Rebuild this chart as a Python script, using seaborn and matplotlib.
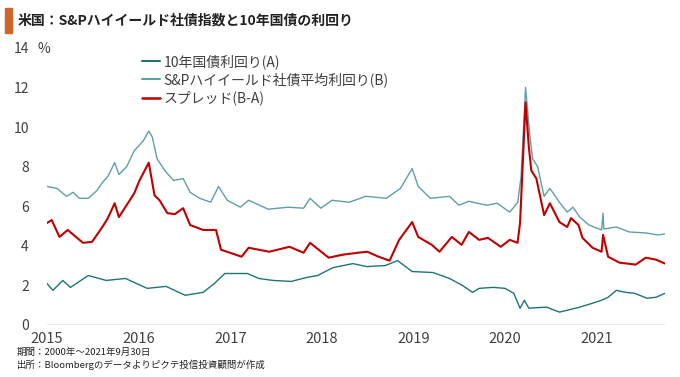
"""US: S&P high-yield index yield vs 10y Treasury yield, with spread."""

import pandas as pd
import matplotlib
matplotlib.use("Agg")
import matplotlib.pyplot as plt
import seaborn as sns

JP_FONT = ["Noto Sans CJK JP", "DejaVu Sans"]

LABEL_UST = "10年国債利回り(A)"
LABEL_HY = "S&Pハイイールド社債平均利回り(B)"
LABEL_SPREAD = "スプレッド(B-A)"

# 10-year Treasury yield (A), %
ust_dates = [
    "2015-01-01", "2015-01-25", "2015-03-05", "2015-04-05", "2015-06-15",
    "2015-08-25", "2015-11-10", "2016-02-05", "2016-04-20", "2016-07-05",
    "2016-09-15", "2016-10-30", "2016-12-10", "2017-03-10", "2017-04-25",
    "2017-06-20", "2017-09-01", "2017-11-01", "2017-12-15", "2018-02-15",
    "2018-05-05", "2018-06-28", "2018-09-10", "2018-10-30", "2018-12-27",
    "2019-03-20", "2019-05-25", "2019-07-15", "2019-08-25", "2019-09-20",
    "2019-11-15", "2020-01-01", "2020-02-05", "2020-03-01", "2020-03-18",
    "2020-04-05", "2020-06-15", "2020-08-05", "2020-10-25", "2020-12-15",
    "2021-01-20", "2021-02-15", "2021-03-20", "2021-04-25", "2021-06-01",
    "2021-07-20", "2021-08-25", "2021-09-30",
]
ust_values = [
    2.10, 1.75, 2.25, 1.90, 2.50,
    2.25, 2.35, 1.85, 1.95, 1.50,
    1.65, 2.10, 2.60, 2.60, 2.35,
    2.25, 2.20, 2.40, 2.50, 2.90,
    3.10, 2.95, 3.00, 3.25, 2.70,
    2.65, 2.35, 2.00, 1.65, 1.85,
    1.90, 1.85, 1.60, 0.85, 1.25,
    0.85, 0.90, 0.65, 0.90, 1.10,
    1.25, 1.40, 1.75, 1.65, 1.60,
    1.35, 1.40, 1.60,
]

# S&P high-yield average yield (B), %
hy_dates = [
    "2015-01-01", "2015-02-10", "2015-03-20", "2015-04-15", "2015-05-10",
    "2015-06-15", "2015-07-20", "2015-08-10", "2015-09-01", "2015-09-28",
    "2015-10-15", "2015-11-15", "2015-12-15", "2016-01-20", "2016-02-11",
    "2016-02-25", "2016-03-15", "2016-04-15", "2016-05-20", "2016-06-27",
    "2016-07-25", "2016-09-01", "2016-10-15", "2016-11-15", "2016-12-20",
    "2017-02-10", "2017-03-15", "2017-06-01", "2017-08-20", "2017-10-20",
    "2017-11-15", "2017-12-28", "2018-02-10", "2018-04-20", "2018-06-25",
    "2018-09-15", "2018-11-10", "2018-12-27", "2019-01-20", "2019-03-10",
    "2019-05-25", "2019-07-01", "2019-08-10", "2019-10-20", "2019-12-01",
    "2020-01-20", "2020-02-21", "2020-03-05", "2020-03-23", "2020-04-08",
    "2020-04-20", "2020-05-10", "2020-06-05", "2020-06-28", "2020-08-05",
    "2020-09-05", "2020-09-28", "2020-10-25", "2020-12-01", "2021-01-20",
    "2021-01-26", "2021-01-29", "2021-03-20", "2021-05-10", "2021-07-15",
    "2021-09-01", "2021-09-30",
]
hy_values = [
    7.00, 6.90, 6.50, 6.70, 6.40,
    6.40, 6.80, 7.20, 7.50, 8.20,
    7.60, 8.00, 8.80, 9.30, 9.80,
    9.50, 8.40, 7.80, 7.30, 7.40,
    6.70, 6.40, 6.20, 7.00, 6.30,
    5.95, 6.30, 5.85, 5.95, 5.90,
    6.40, 5.90, 6.30, 6.20, 6.50,
    6.40, 6.90, 7.90, 7.00, 6.40,
    6.50, 6.05, 6.25, 6.05, 6.15,
    5.70, 6.20, 7.50, 12.00, 9.70,
    8.40, 8.00, 6.50, 6.90, 6.20,
    5.70, 5.95, 5.45, 5.05, 4.80,
    5.65, 4.85, 4.95, 4.70, 4.65,
    4.55, 4.60,
]

# spread (B-A), %
spread_dates = [
    "2015-01-01", "2015-01-20", "2015-02-20", "2015-03-25", "2015-05-01",
    "2015-05-25", "2015-06-30", "2015-08-10", "2015-09-01", "2015-09-28",
    "2015-10-15", "2015-12-15", "2016-01-05", "2016-02-11", "2016-03-05",
    "2016-03-25", "2016-04-25", "2016-05-25", "2016-06-27", "2016-07-25",
    "2016-09-15", "2016-11-05", "2016-11-25", "2017-02-15", "2017-03-15",
    "2017-06-05", "2017-08-25", "2017-10-20", "2017-11-15", "2018-01-28",
    "2018-03-25", "2018-05-25", "2018-07-01", "2018-08-15", "2018-09-28",
    "2018-11-05", "2018-12-27", "2019-01-20", "2019-03-15", "2019-04-15",
    "2019-06-03", "2019-07-12", "2019-08-10", "2019-09-20", "2019-10-25",
    "2019-12-15", "2020-01-20", "2020-02-20", "2020-03-01", "2020-03-23",
    "2020-04-05", "2020-04-15", "2020-05-05", "2020-06-05", "2020-06-28",
    "2020-08-05", "2020-09-05", "2020-09-20", "2020-10-20", "2020-11-05",
    "2020-12-15", "2021-01-20", "2021-01-26", "2021-02-15", "2021-04-01",
    "2021-06-05", "2021-07-15", "2021-08-25", "2021-09-30",
]
spread_values = [
    5.15, 5.30, 4.45, 4.80, 4.40,
    4.15, 4.20, 4.95, 5.40, 6.15,
    5.45, 6.65, 7.30, 8.20, 6.55,
    6.30, 5.65, 5.60, 5.90, 5.05,
    4.80, 4.80, 3.80, 3.45, 3.90,
    3.70, 3.95, 3.65, 4.15, 3.40,
    3.55, 3.65, 3.70, 3.45, 3.25,
    4.30, 5.20, 4.45, 4.05, 3.70,
    4.45, 4.05, 4.70, 4.30, 4.40,
    3.95, 4.30, 4.15, 5.15, 11.25,
    9.00, 7.80, 7.40, 5.55, 6.15,
    5.20, 4.95, 5.40, 5.05, 4.40,
    3.90, 3.70, 4.55, 3.45, 3.15,
    3.05, 3.40, 3.30, 3.10,
]

year_ticks = ["2015", "2016", "2017", "2018", "2019", "2020", "2021"]

COLORS = {LABEL_UST: "#1d7674", LABEL_HY: "#5fa0a4", LABEL_SPREAD: "#c00000"}


def build_frame() -> pd.DataFrame:
    parts = []
    for label, dates, vals in [
        (LABEL_UST, ust_dates, ust_values),
        (LABEL_HY, hy_dates, hy_values),
        (LABEL_SPREAD, spread_dates, spread_values),
    ]:
        parts.append(pd.DataFrame({"date": pd.to_datetime(dates), "value": vals, "series": label}))
    return pd.concat(parts, ignore_index=True)


if __name__ == "__main__":
    sns.set_style("white")
    plt.rcParams["font.family"] = JP_FONT

    df = build_frame()

    fig = plt.figure(figsize=(6.8, 3.77), dpi=100)
    ax = fig.add_axes([0.069, 0.138, 0.909, 0.735])

    sns.lineplot(
        data=df, x="date", y="value", hue="series",
        hue_order=[LABEL_UST, LABEL_HY, LABEL_SPREAD],
        palette=COLORS, ax=ax, legend=False,
    )
    for line, lw in zip(ax.get_lines(), [1.0, 1.0, 1.5]):
        line.set_linewidth(lw)

    ax.set_xlim(pd.Timestamp("2015-01-01"), pd.Timestamp("2021-09-30"))
    ax.set_ylim(0, 14)
    ax.set_yticks(range(0, 15, 2))
    ax.set_xticks(pd.to_datetime([y + "-01-01" for y in year_ticks]))
    ax.set_xticklabels(year_ticks)
    ax.set_xlabel("")
    ax.set_ylabel("")
    ax.tick_params(axis="y", length=0, pad=13, labelsize=10, labelcolor="#404040")
    ax.tick_params(axis="x", length=0, pad=5, labelsize=10.5, labelcolor="#404040")
    for side in ["top", "right", "left", "bottom"]:
        ax.spines[side].set_visible(False)
    ax.axhline(0, color="#e6e6e6", lw=2, zorder=0)

    handles = [plt.Line2D([], [], color=COLORS[k], lw=lw)
               for k, lw in [(LABEL_UST, 1.5), (LABEL_HY, 1.5), (LABEL_SPREAD, 1.8)]]
    fig.legend(handles, [LABEL_UST, LABEL_HY, LABEL_SPREAD],
               loc="upper left", bbox_to_anchor=(142 / 680, 1 - 54 / 377),
               frameon=False, fontsize=10, handlelength=1.3, handletextpad=0.25,
               labelspacing=0.25, borderpad=0, borderaxespad=0, labelcolor="#404040")

    fig.text(38 / 680, 1 - 49 / 377, "%", fontsize=10, va="center", color="#404040")

    # title with orange marker
    fig.patches.append(plt.Rectangle((5 / 680, 1 - 33 / 377), 7 / 680, 25 / 377,
                                     transform=fig.transFigure, color="#d0652a"))
    fig.text(18 / 680, 1 - 20 / 377, "米国：S&Pハイイールド社債指数と10年国債の利回り",
             fontsize=10, fontweight="bold", va="center", color="#222222")

    fig.text(17 / 680, 1 - 352 / 377, "期間：2000年～2021年9月30日",
             fontsize=6.8, va="center", color="#222222")
    fig.text(17 / 680, 1 - 365 / 377, "出所：Bloombergのデータよりピクテ投信投資顧問が作成",
             fontsize=6.8, va="center", color="#222222")

    fig.savefig("out.png", dpi=100)
    plt.close(fig)
